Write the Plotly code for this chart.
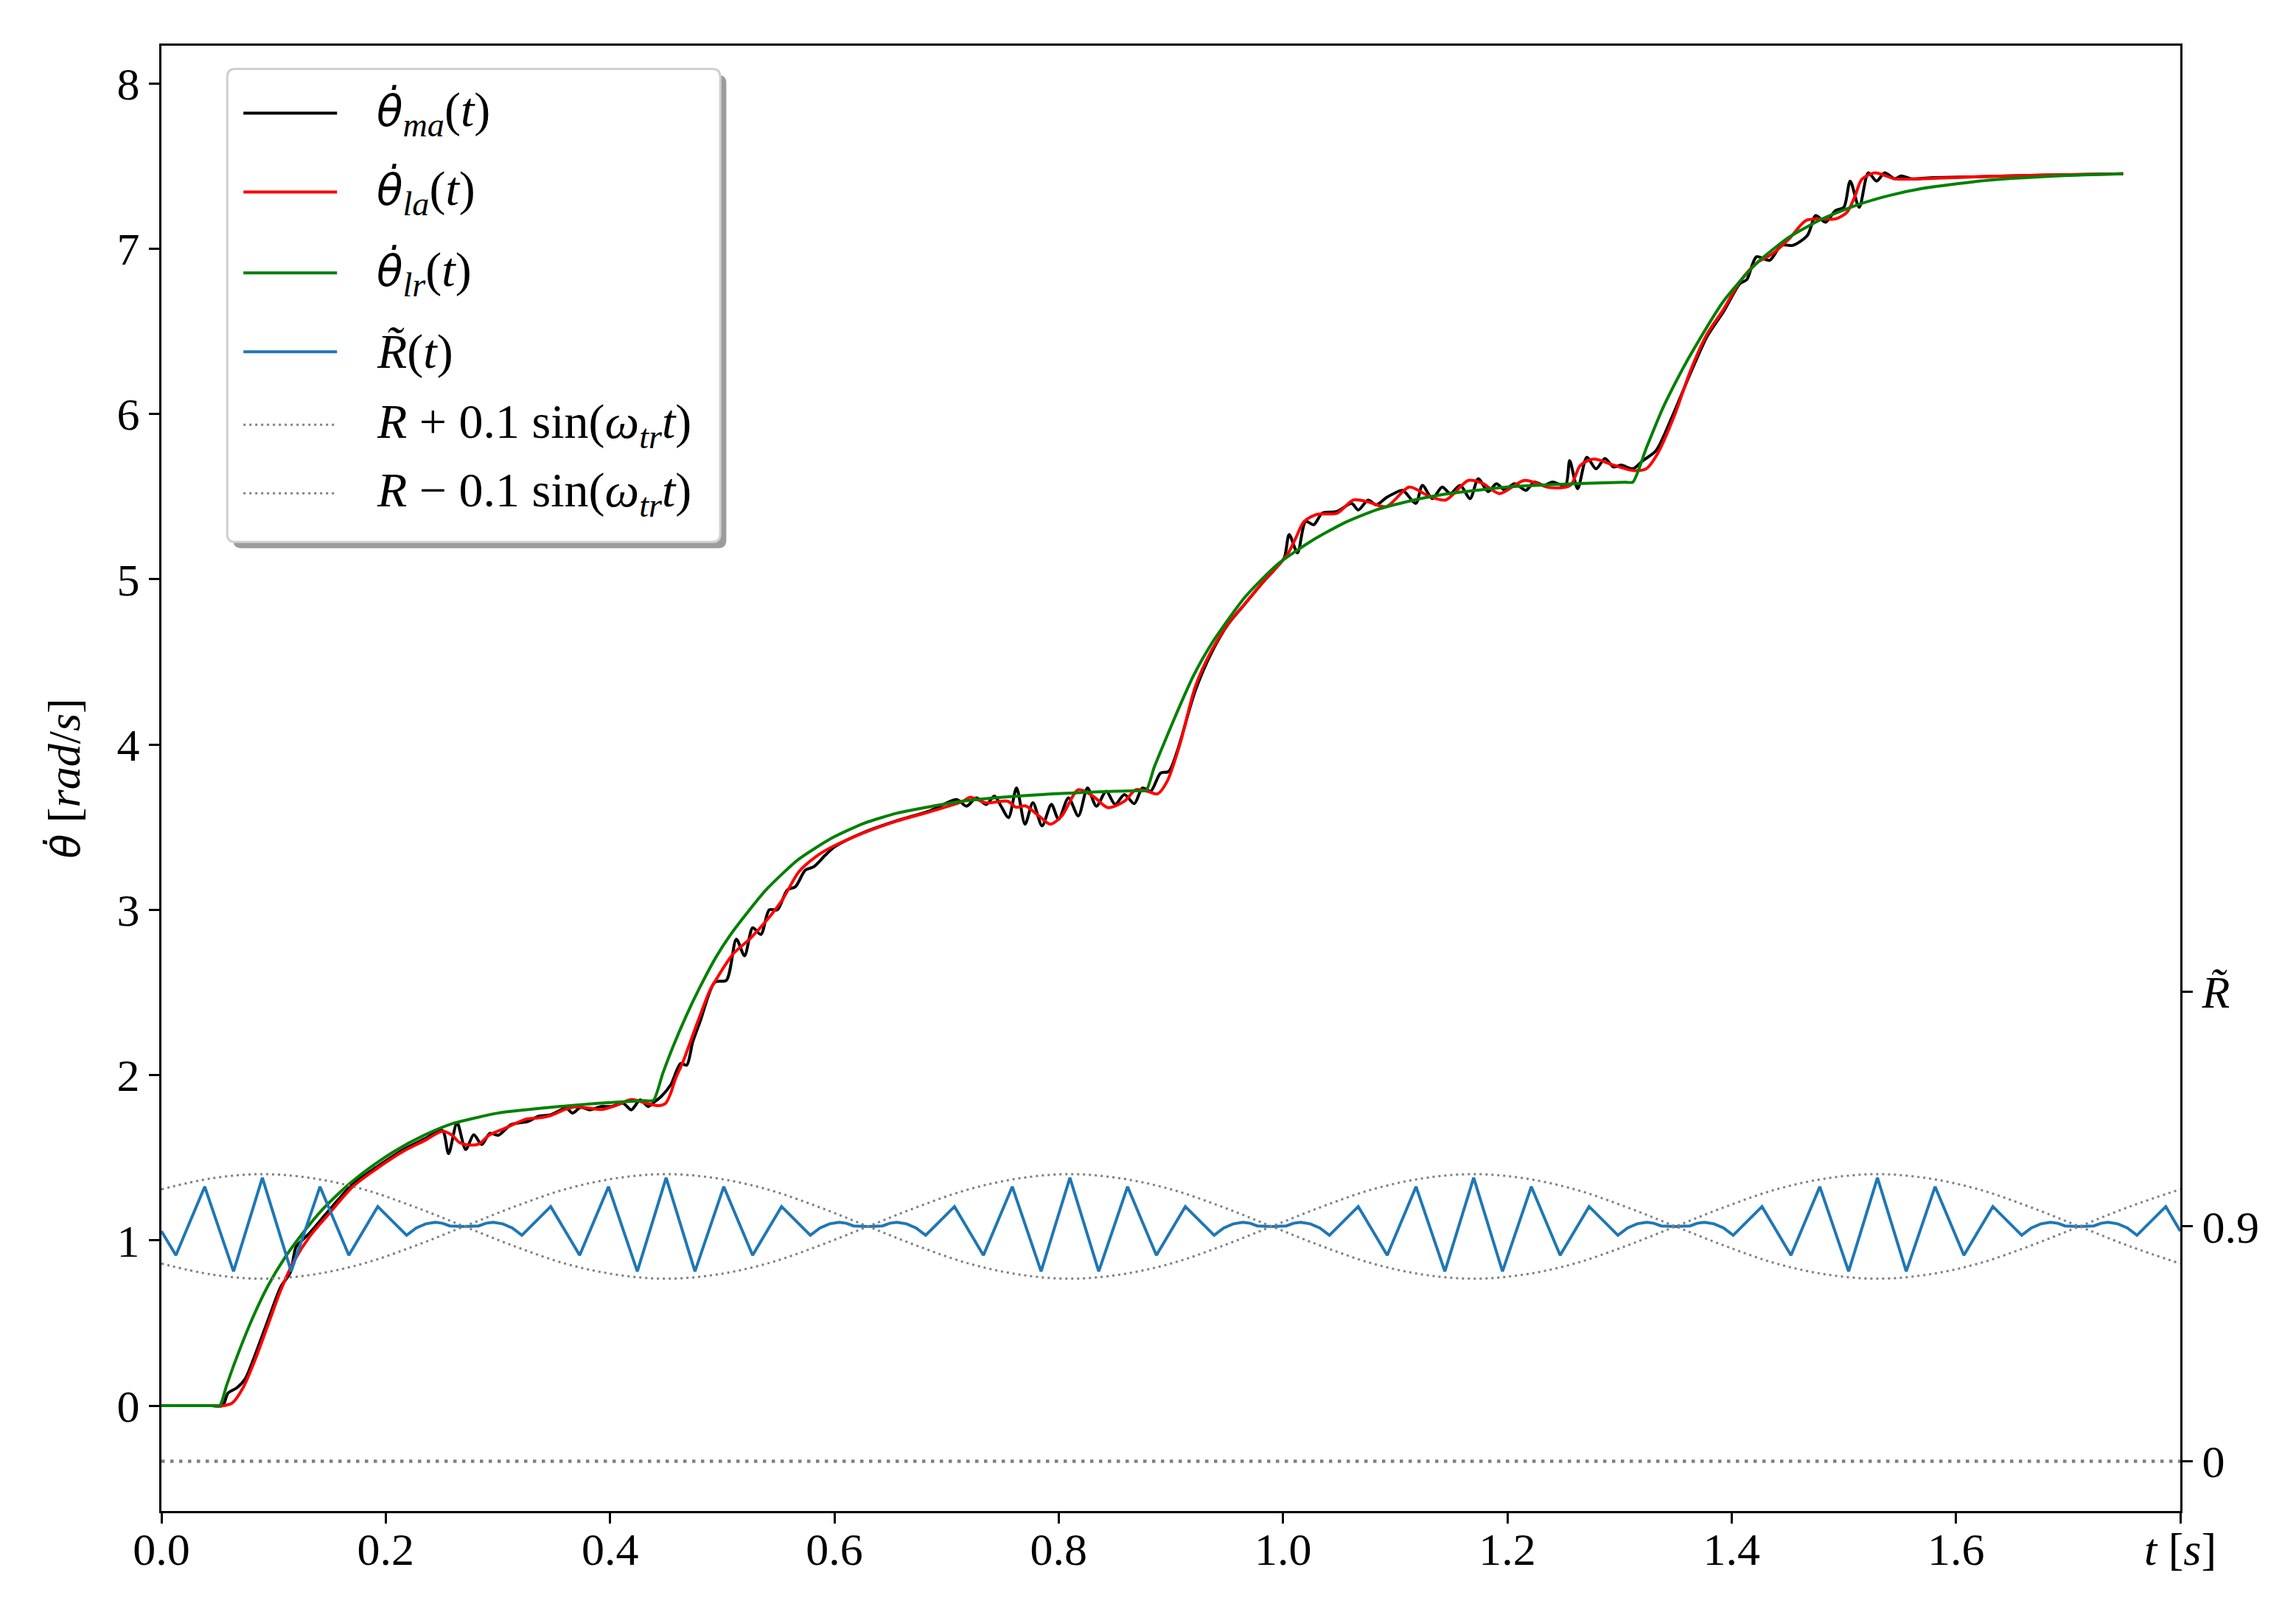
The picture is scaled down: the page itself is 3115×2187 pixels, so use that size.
import plotly.graph_objects as go

# ---------------- data ----------------
BLACK = [
    (0.000, 0.000), (0.045, 0.000), (0.0545, 0.000), (0.0594, 0.076), (0.0669, 0.106),
    (0.0745, 0.160), (0.0839, 0.314), (0.0952, 0.520), (0.1065, 0.720), (0.1148, 0.804),
    (0.1200, 0.960), (0.1254, 1.000), (0.1329, 1.050), (0.1480, 1.170), (0.1706, 1.340),
    (0.1933, 1.450), (0.2159, 1.550), (0.2350, 1.615), (0.2504, 1.666), (0.2560, 1.525),
    (0.2636, 1.711), (0.2713, 1.550), (0.2785, 1.639), (0.2855, 1.580), (0.2928, 1.648),
    (0.3004, 1.636), (0.3117, 1.700), (0.3270, 1.720), (0.3358, 1.750), (0.3470, 1.760),
    (0.3610, 1.800), (0.3665, 1.770), (0.3740, 1.805), (0.3820, 1.790), (0.3920, 1.810),
    (0.4010, 1.810), (0.4115, 1.830), (0.4190, 1.790), (0.4268, 1.850), (0.4340, 1.810),
    (0.4400, 1.840), (0.4455, 1.870), (0.4540, 1.940), (0.4630, 2.070), (0.4683, 2.060),
    (0.4737, 2.200), (0.4803, 2.324), (0.4935, 2.563), (0.5037, 2.573), (0.5126, 2.822),
    (0.5199, 2.722), (0.5272, 2.891), (0.5345, 2.851), (0.5419, 3.000), (0.5492, 3.000),
    (0.5580, 3.120), (0.5653, 3.140), (0.5741, 3.240), (0.5815, 3.260), (0.5917, 3.329),
    (0.6000, 3.380), (0.6270, 3.470), (0.6562, 3.540), (0.6856, 3.600), (0.7090, 3.667),
    (0.7178, 3.627), (0.7266, 3.677), (0.7354, 3.637), (0.7427, 3.688), (0.7486, 3.627),
    (0.7553, 3.558), (0.7624, 3.737), (0.7700, 3.518), (0.7770, 3.648), (0.7852, 3.508),
    (0.7935, 3.638), (0.7999, 3.548), (0.8087, 3.677), (0.8175, 3.568), (0.8257, 3.737),
    (0.8336, 3.627), (0.8424, 3.717), (0.8503, 3.638), (0.8586, 3.697), (0.8674, 3.642),
    (0.8747, 3.737), (0.8820, 3.717), (0.8908, 3.827), (0.8981, 3.837), (0.9055, 3.956),
    (0.9220, 4.330), (0.9366, 4.560), (0.9513, 4.730), (0.9660, 4.850), (0.9806, 4.970),
    (0.9953, 5.080), (1.0012, 5.130), (1.0055, 5.270), (1.0129, 5.160), (1.0202, 5.349),
    (1.0275, 5.330), (1.0349, 5.399), (1.0480, 5.410), (1.0612, 5.459), (1.0671, 5.419),
    (1.0759, 5.479), (1.0832, 5.450), (1.0920, 5.493), (1.0993, 5.520), (1.1067, 5.538),
    (1.1184, 5.459), (1.1243, 5.568), (1.1331, 5.488), (1.1419, 5.558), (1.1492, 5.518),
    (1.1580, 5.568), (1.1668, 5.488), (1.1741, 5.608), (1.1829, 5.530), (1.1903, 5.578),
    (1.1976, 5.540), (1.2064, 5.578), (1.2166, 5.538), (1.2240, 5.588), (1.2328, 5.568),
    (1.2401, 5.588), (1.2518, 5.568), (1.2556, 5.717), (1.2627, 5.548), (1.2709, 5.737),
    (1.2791, 5.668), (1.2871, 5.731), (1.2944, 5.680), (1.3017, 5.690), (1.3120, 5.668),
    (1.3207, 5.717), (1.3325, 5.777), (1.3471, 5.986), (1.3635, 6.250), (1.3782, 6.470),
    (1.3928, 6.620), (1.4075, 6.790), (1.4134, 6.812), (1.4222, 6.951), (1.4339, 6.930),
    (1.4442, 7.021), (1.4545, 7.020), (1.4676, 7.081), (1.4750, 7.200), (1.4837, 7.160),
    (1.4925, 7.230), (1.5000, 7.250), (1.5057, 7.409), (1.5137, 7.250), (1.5219, 7.459),
    (1.5292, 7.409), (1.5365, 7.459), (1.5453, 7.423), (1.5512, 7.440), (1.5599, 7.423),
    (1.5800, 7.430), (1.6200, 7.435), (1.6800, 7.445), (1.7490, 7.453),
]

RED = [
    (0.000, 0.000), (0.045, 0.000), (0.0556, 0.000), (0.0632, 0.016), (0.0726, 0.106),
    (0.0839, 0.284), (0.0952, 0.492), (0.1065, 0.700), (0.1178, 0.870), (0.1329, 1.030),
    (0.1480, 1.150), (0.1706, 1.325), (0.1933, 1.440), (0.2159, 1.540), (0.2350, 1.605),
    (0.2504, 1.660), (0.2592, 1.636), (0.2657, 1.592), (0.2745, 1.577), (0.2833, 1.584),
    (0.2920, 1.636), (0.3073, 1.681), (0.3249, 1.733), (0.3358, 1.740), (0.3470, 1.755),
    (0.3599, 1.792), (0.3687, 1.807), (0.3818, 1.800), (0.3927, 1.792), (0.4059, 1.817),
    (0.4190, 1.852), (0.4321, 1.830), (0.4430, 1.815), (0.4496, 1.830), (0.4540, 1.889),
    (0.4584, 1.978), (0.4650, 2.080), (0.4780, 2.320), (0.4890, 2.513), (0.4950, 2.583),
    (0.5096, 2.732), (0.5243, 2.822), (0.5390, 2.931), (0.5536, 3.060), (0.5683, 3.230),
    (0.5830, 3.319), (0.5976, 3.379), (0.6270, 3.468), (0.6562, 3.538), (0.6856, 3.594),
    (0.7149, 3.657), (0.7207, 3.681), (0.7354, 3.647), (0.7545, 3.657), (0.7618, 3.621),
    (0.7706, 3.628), (0.7823, 3.568), (0.7926, 3.518), (0.8028, 3.568), (0.8175, 3.727),
    (0.8307, 3.687), (0.8439, 3.618), (0.8586, 3.657), (0.8688, 3.727), (0.8791, 3.717),
    (0.8880, 3.701), (0.8967, 3.777), (0.9080, 4.000), (0.9220, 4.354), (0.9366, 4.573),
    (0.9513, 4.732), (0.9660, 4.852), (0.9806, 4.971), (0.9953, 5.080), (1.0040, 5.150),
    (1.0114, 5.250), (1.0187, 5.349), (1.0305, 5.393), (1.0480, 5.399), (1.0627, 5.479),
    (1.0750, 5.470), (1.0920, 5.439), (1.1126, 5.558), (1.1280, 5.510), (1.1448, 5.479),
    (1.1653, 5.598), (1.1780, 5.580), (1.1932, 5.518), (1.2152, 5.598), (1.2386, 5.554),
    (1.2562, 5.568), (1.2650, 5.688), (1.2768, 5.727), (1.2944, 5.691), (1.3120, 5.658),
    (1.3237, 5.668), (1.3340, 5.760), (1.3490, 5.990), (1.3635, 6.265), (1.3782, 6.484),
    (1.3928, 6.633), (1.4075, 6.802), (1.4222, 6.912), (1.4368, 6.971), (1.4515, 7.061),
    (1.4662, 7.170), (1.4808, 7.180), (1.4925, 7.180), (1.5028, 7.220), (1.5101, 7.320),
    (1.5160, 7.419), (1.5277, 7.459), (1.5453, 7.423), (1.5700, 7.423), (1.6200, 7.435),
    (1.6800, 7.445), (1.7490, 7.453),
]

GREEN = [
    (0.000, 0.000), (0.045, 0.000), (0.052, 0.000), (0.058, 0.120), (0.065, 0.254),
    (0.080, 0.510), (0.095, 0.725), (0.110, 0.895), (0.125, 1.035), (0.144, 1.190),
    (0.163, 1.315), (0.1716, 1.365), (0.186, 1.440), (0.208, 1.540), (0.234, 1.635),
    (0.259, 1.705), (0.300, 1.770), (0.347, 1.805), (0.390, 1.830), (0.430, 1.845),
    (0.4386, 1.847), (0.447, 2.010), (0.456, 2.170), (0.468, 2.360), (0.480, 2.530),
    (0.495, 2.720), (0.5096, 2.870), (0.539, 3.120), (0.568, 3.305), (0.598, 3.435),
    (0.627, 3.525), (0.656, 3.585), (0.686, 3.625), (0.715, 3.658), (0.774, 3.693),
    (0.832, 3.713), (0.870, 3.721), (0.878, 3.723), (0.885, 3.860), (0.891, 3.960),
    (0.9055, 4.195), (0.920, 4.414), (0.9366, 4.613), (0.966, 4.891), (0.995, 5.090),
    (1.025, 5.230), (1.054, 5.339), (1.083, 5.419), (1.113, 5.473), (1.142, 5.512),
    (1.200, 5.558), (1.259, 5.578), (1.305, 5.587), (1.312, 5.588), (1.3237, 5.790),
    (1.3383, 6.030), (1.353, 6.230), (1.3635, 6.360), (1.3928, 6.683), (1.4222, 6.912),
    (1.4515, 7.071), (1.4808, 7.180), (1.510, 7.260), (1.5395, 7.320), (1.5688, 7.363),
    (1.6274, 7.413), (1.686, 7.439), (1.749, 7.453),
]

R_TILDE = [
    (0.0000, 0.891), (0.0129, 0.845), (0.0386, 0.976), (0.0643, 0.814), (0.0900, 0.993),
    (0.1157, 0.814), (0.1414, 0.976), (0.1671, 0.845), (0.1929, 0.938), (0.2186, 0.883),
    (0.2272, 0.897), (0.2357, 0.905), (0.2443, 0.908), (0.2507, 0.906), (0.2571, 0.901),
    (0.2700, 0.900), (0.2829, 0.901), (0.2893, 0.906), (0.2957, 0.908), (0.3043, 0.905),
    (0.3128, 0.897), (0.3214, 0.883), (0.3471, 0.938), (0.3729, 0.845), (0.3986, 0.976),
    (0.4243, 0.814), (0.4500, 0.993), (0.4757, 0.814), (0.5014, 0.976), (0.5271, 0.845),
    (0.5529, 0.938), (0.5786, 0.883), (0.5872, 0.897), (0.5957, 0.905), (0.6043, 0.908),
    (0.6107, 0.906), (0.6171, 0.901), (0.6300, 0.900), (0.6429, 0.901), (0.6493, 0.906),
    (0.6557, 0.908), (0.6643, 0.905), (0.6728, 0.897), (0.6814, 0.883), (0.7071, 0.938),
    (0.7329, 0.845), (0.7586, 0.976), (0.7843, 0.814), (0.8100, 0.993), (0.8357, 0.814),
    (0.8614, 0.976), (0.8871, 0.845), (0.9129, 0.938), (0.9386, 0.883), (0.9472, 0.897),
    (0.9557, 0.905), (0.9643, 0.908), (0.9707, 0.906), (0.9771, 0.901), (0.9900, 0.900),
    (1.0029, 0.901), (1.0093, 0.906), (1.0157, 0.908), (1.0243, 0.905), (1.0328, 0.897),
    (1.0414, 0.883), (1.0671, 0.938), (1.0929, 0.845), (1.1186, 0.976), (1.1443, 0.814),
    (1.1700, 0.993), (1.1957, 0.814), (1.2214, 0.976), (1.2471, 0.845), (1.2729, 0.938),
    (1.2986, 0.883), (1.3072, 0.897), (1.3157, 0.905), (1.3243, 0.908), (1.3307, 0.906),
    (1.3371, 0.901), (1.3500, 0.900), (1.3629, 0.901), (1.3693, 0.906), (1.3757, 0.908),
    (1.3843, 0.905), (1.3928, 0.897), (1.4014, 0.883), (1.4271, 0.938), (1.4529, 0.845),
    (1.4786, 0.976), (1.5043, 0.814), (1.5300, 0.993), (1.5557, 0.814), (1.5814, 0.976),
    (1.6071, 0.845), (1.6329, 0.938), (1.6586, 0.883), (1.6672, 0.897), (1.6757, 0.905),
    (1.6843, 0.908), (1.6907, 0.906), (1.6971, 0.901), (1.7100, 0.900), (1.7229, 0.901),
    (1.7293, 0.906), (1.7357, 0.908), (1.7443, 0.905), (1.7528, 0.897), (1.7614, 0.883),
    (1.7871, 0.938), (1.8000, 0.891),
]

R_NOMINAL = 0.9
ENV_T = [0.000, 0.045, 0.090, 0.135, 0.180, 0.225, 0.270, 0.315, 0.360, 0.405,
         0.450, 0.495, 0.540, 0.585, 0.630, 0.675, 0.720, 0.765, 0.810, 0.855,
         0.900, 0.945, 0.990, 1.035, 1.080, 1.125, 1.170, 1.215, 1.260, 1.305,
         1.350, 1.395, 1.440, 1.485, 1.530, 1.575, 1.620, 1.665, 1.710, 1.755, 1.800]
# 0.1*sin(w_tr t) as read from the dotted envelopes
ENV_SIN = [0.071, 0.092, 0.100, 0.092, 0.071, 0.038, 0.000, -0.038, -0.071, -0.092,
           -0.100, -0.092, -0.071, -0.038, 0.000, 0.038, 0.071, 0.092, 0.100, 0.092,
           0.071, 0.038, 0.000, -0.038, -0.071, -0.092, -0.100, -0.092, -0.071, -0.038,
           0.000, 0.038, 0.071, 0.092, 0.100, 0.092, 0.071, 0.038, 0.000, -0.038, -0.071]

X_TICKS = [0.0, 0.2, 0.4, 0.6, 0.8, 1.0, 1.2, 1.4, 1.6, 1.8]
X_TICKTEXT = ["0.0", "0.2", "0.4", "0.6", "0.8", "1.0", "1.2", "1.4", "1.6", "<i>t</i> [<i>s</i>]"]
Y_TICKS = [0, 1, 2, 3, 4, 5, 6, 7, 8]
R_TICKS = [0.451, 0.9, 1.349]
R_TICKTEXT = ["0", "0.9", "<i>R\u0303</i>"]


def theta_dot(size):
    # DejaVu Sans positions the combining dot correctly above the theta
    return ("<span style=\"font-family:DejaVu Sans;font-size:" + str(size) + "px\">"
            "<i>\u03b8\u0307</i></span>")


LEGEND_NAMES = [
    theta_dot(58) + "<sub><i>ma</i></sub>(<i>t</i>)",
    theta_dot(58) + "<sub><i>la</i></sub>(<i>t</i>)",
    theta_dot(58) + "<sub><i>lr</i></sub>(<i>t</i>)",
    "<i>R\u0303</i>(<i>t</i>)",
    "<i>R</i> + 0.1 sin(<i>\u03c9</i><sub><i>tr</i></sub><i>t</i>)",
    "<i>R</i> \u2212 0.1 sin(<i>\u03c9</i><sub><i>tr</i></sub><i>t</i>)",
]
Y_TITLE = theta_dot(54) + " [<i>rad</i>/<i>s</i>]"

FONT = "Liberation Serif"
BLUE = "#1f77b4"
GRAY = "#808080"


def split(pairs):
    return [p[0] for p in pairs], [p[1] for p in pairs]


fig = go.Figure()

bt, bv = split(BLACK)
rt, rv = split(RED)
gt, gv = split(GREEN)
at, av = split(R_TILDE)
env_up = [R_NOMINAL + s for s in ENV_SIN]
env_dn = [R_NOMINAL - s for s in ENV_SIN]

fig.add_trace(go.Scatter(x=bt, y=bv, mode="lines", name=LEGEND_NAMES[0],
                         line=dict(color="black", width=4, shape="spline", smoothing=0.8)))
fig.add_trace(go.Scatter(x=rt, y=rv, mode="lines", name=LEGEND_NAMES[1],
                         line=dict(color="red", width=4, shape="spline", smoothing=0.8)))
fig.add_trace(go.Scatter(x=gt, y=gv, mode="lines", name=LEGEND_NAMES[2],
                         line=dict(color="green", width=4, shape="spline", smoothing=0.6)))
fig.add_trace(go.Scatter(x=at, y=av, mode="lines", name=LEGEND_NAMES[3], yaxis="y2",
                         line=dict(color=BLUE, width=4)))
fig.add_trace(go.Scatter(x=ENV_T, y=env_up, mode="lines", name=LEGEND_NAMES[4], yaxis="y2",
                         line=dict(color=GRAY, width=3, dash="3px,5px", shape="spline")))
fig.add_trace(go.Scatter(x=ENV_T, y=env_dn, mode="lines", name=LEGEND_NAMES[5], yaxis="y2",
                         line=dict(color=GRAY, width=3, dash="3px,5px", shape="spline")))
fig.add_trace(go.Scatter(x=[X_TICKS[0], X_TICKS[-1]], y=[R_TICKS[0], R_TICKS[0]], mode="lines",
                         yaxis="y2", showlegend=False, hoverinfo="skip",
                         line=dict(color=GRAY, width=4.5, dash="4.5px,7.5px")))


# ---------------- legend drawn as a framed box with shadow ----------------
def rounded(x0, y0, x1, y1, rx, ry):
    return (f"M{x0+rx},{y0} L{x1-rx},{y0} Q{x1},{y0} {x1},{y0+ry} "
            f"L{x1},{y1-ry} Q{x1},{y1} {x1-rx},{y1} L{x0+rx},{y1} Q{x0},{y1} {x0},{y1-ry} "
            f"L{x0},{y0+ry} Q{x0},{y0} {x0+rx},{y0} Z")


LX0, LX1, LY0, LY1 = 0.0326, 0.2768, 0.6613, 0.9842
RX, RY = 0.004, 0.0055
SHX, SHY = 0.0030, 0.0042
shapes = [
    dict(type="path", xref="paper", yref="paper", layer="above",
         path=rounded(LX0 + SHX, LY0 - SHY, LX1 + SHX, LY1 - SHY, RX, RY),
         fillcolor="#9c9c9c", line=dict(width=0)),
    dict(type="path", xref="paper", yref="paper", layer="above",
         path=rounded(LX0, LY0, LX1, LY1, RX, RY),
         fillcolor="white", line=dict(color="#d0d0d0", width=3)),
]
ROWS = [0.9540, 0.9002, 0.8449, 0.7911, 0.7413, 0.6945]
SYM = [dict(color="black", width=4), dict(color="red", width=4), dict(color="green", width=4),
       dict(color=BLUE, width=4), dict(color=GRAY, width=3, dash="3px,5px"),
       dict(color=GRAY, width=3, dash="3px,5px")]
annotations = []
for yrow, sym, name in zip(ROWS, SYM, LEGEND_NAMES):
    shapes.append(dict(type="line", xref="paper", yref="paper", layer="above",
                       x0=0.0406, x1=0.0870, y0=yrow, y1=yrow, line=sym))
    annotations.append(dict(xref="paper", yref="paper", x=0.1060, y=yrow,
                            xanchor="left", yanchor="middle", showarrow=False,
                            text=name, font=dict(family=FONT, size=66, color="black")))

axis_common = dict(showgrid=False, zeroline=False, showline=True, linecolor="black",
                   linewidth=3, ticks="outside", ticklen=14, tickwidth=3, tickcolor="black",
                   tickfont=dict(family=FONT, size=62, color="black"))

fig.update_layout(
    width=3115, height=2187,
    margin=dict(l=219, r=157, t=62, b=137, pad=0),
    paper_bgcolor="white", plot_bgcolor="white",
    showlegend=False,
    font=dict(family=FONT, size=62, color="black"),
    xaxis=dict(range=[0, 1.8], tickvals=X_TICKS, ticktext=X_TICKTEXT, mirror=True,
               ticklabelstandoff=-18, **axis_common),
    yaxis=dict(range=[-0.6375, 8.228], tickvals=Y_TICKS, mirror=True,
               title=dict(text=Y_TITLE, font=dict(family=FONT, size=62), standoff=30),
               **axis_common),
    yaxis2=dict(overlaying="y", side="right", range=[0.356, 3.157], tickvals=R_TICKS,
                ticktext=R_TICKTEXT, **axis_common),
    shapes=shapes,
    annotations=annotations,
)

fig.write_html("out.html", config={"displayModeBar": False},
               post_script="document.body.style.margin='0px';")
